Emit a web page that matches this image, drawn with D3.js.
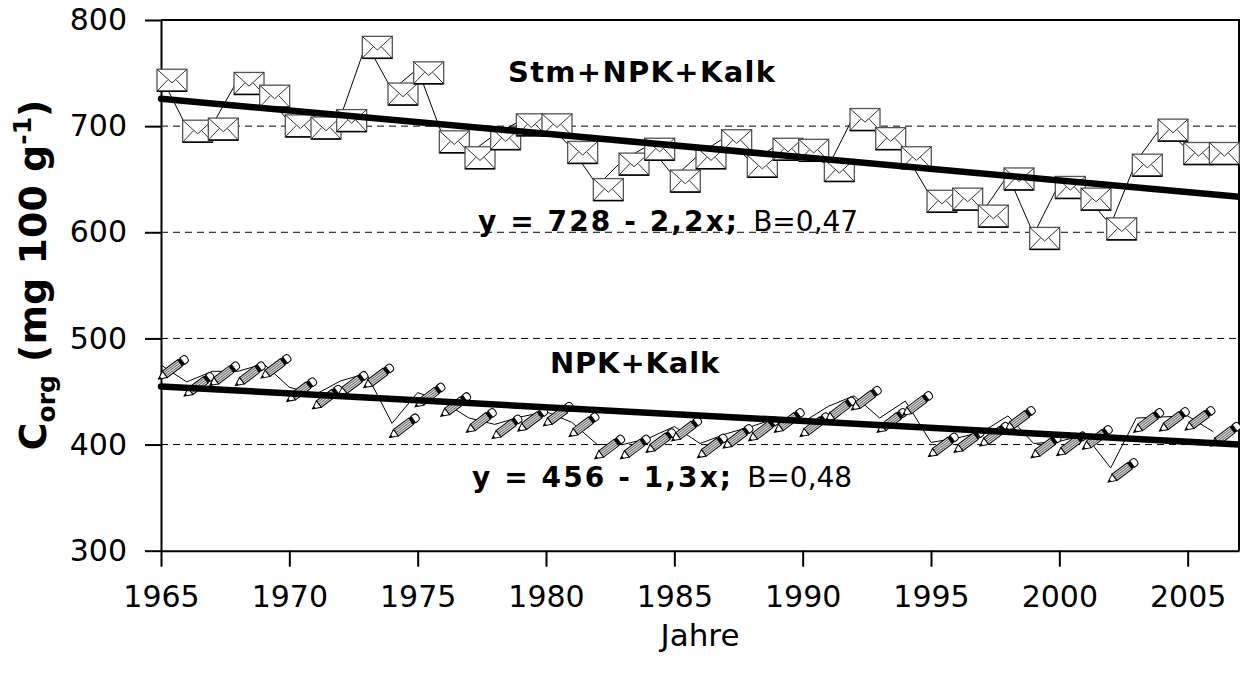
<!DOCTYPE html>
<html>
<head>
<meta charset="utf-8">
<script src="https://cdn.jsdelivr.net/npm/d3@7"></script>
<style>
  body { margin: 0; background: #fff; }
  text { font-family: "DejaVu Sans", Verdana, sans-serif; fill: #000; }
</style>
</head>
<body>
<svg id="chart" width="1240" height="674"></svg>
<script>
// Years of observation
const years = [1965, 1966, 1967, 1968, 1969, 1970, 1971, 1972, 1973, 1974,
               1975, 1976, 1977, 1978, 1979, 1980, 1981, 1982, 1983, 1984,
               1985, 1986, 1987, 1988, 1989, 1990, 1991, 1992, 1993, 1994,
               1995, 1996, 1997, 1998, 1999, 2000, 2001, 2002, 2003, 2004,
               2005, 2006];

// C_org, mg per 100 g soil — Stm+NPK+Kalk
const stmNpkKalk = [747, 699, 701, 744, 732, 704, 702, 709, 778, 734,
                    754, 689, 674, 692, 705, 705, 679, 644, 668, 682,
                    652, 674, 690, 666, 682, 681, 662, 710, 692, 674,
                    633, 635, 619, 654, 598, 646, 635, 607, 667, 700,
                    678, 678];

// C_org, mg per 100 g soil — NPK+Kalk
const npkKalk = [475, 459, 469, 469, 476, 454, 447, 460, 467, 420,
                 449, 440, 425, 419, 426, 431, 421, 400, 400, 406,
                 417, 401, 410, 417, 425, 421, 436, 446, 425, 441,
                 402, 406, 412, 427, 401, 403, 409, 378, 425, 426,
                 427, 412];

// Linear trends y = a + b*x, x counted from 1964
const trendNames = ["Stm+NPK+Kalk", "NPK+Kalk"];
const trendIntercepts = [728, 456];
const trendSlopes = [-2.2, -1.3];
const trendB = ["0,47", "0,48"];
const trendFormula = ["y = 728 - 2,2x;", "y = 456 - 1,3x;"];

const xTicks = [1965, 1970, 1975, 1980, 1985, 1990, 1995, 2000, 2005];
const yTicks = [300, 400, 500, 600, 700, 800];
const gridValues = [400, 500, 600, 700];

const svg = d3.select("#chart");
svg.append("rect").attr("width", 1240).attr("height", 674).attr("fill", "#fff");

const x = d3.scaleLinear().domain([1965, 2007]).range([161, 1239]);
const y = d3.scaleLinear().domain([300, 800]).range([550.7, 20]);

// dashed horizontal grid
svg.append("g").selectAll("line").data(gridValues).join("line")
  .attr("x1", x(1965)).attr("x2", x(2007))
  .attr("y1", d => y(d)).attr("y2", d => y(d))
  .attr("stroke", "#000").attr("stroke-width", 1)
  .attr("stroke-dasharray", "7,5");

// frame: top and right
svg.append("path")
  .attr("d", `M${x(1965)},${y(800)}H${x(2007)}V${y(300)}`)
  .attr("fill", "none").attr("stroke", "#000").attr("stroke-width", 2);

// axes
const xAxis = svg.append("g").attr("transform", `translate(0,${y(300)})`)
  .call(d3.axisBottom(x).tickValues(xTicks).tickFormat(d3.format("d"))
        .tickSize(16).tickSizeOuter(0).tickPadding(19));
const yAxis = svg.append("g").attr("transform", `translate(${x(1965)},0)`)
  .call(d3.axisLeft(y).tickValues(yTicks).tickSize(16).tickSizeOuter(0).tickPadding(18));
[xAxis, yAxis].forEach(g => {
  g.select(".domain").attr("stroke", "#000").attr("stroke-width", 2);
  g.selectAll(".tick line").attr("stroke", "#000").attr("stroke-width", 2);
  g.selectAll(".tick text").attr("font-family", "DejaVu Sans")
    .attr("font-size", 30).attr("fill", "#000");
});

// connecting lines of both series
const line = d3.line().x(d => x(d[0])).y(d => y(d[1]));
const seriesStm = years.map((yr, i) => [yr, stmNpkKalk[i]]);
const seriesNpk = years.map((yr, i) => [yr, npkKalk[i]]);

// symbols sit slightly right/below their data point
const symDx = 11, symDy = 4;

// envelope symbols
function drawEnvelope(g) {
  const w = 30, h = 22;
  g.append("rect").attr("x", -w / 2).attr("y", -h / 2).attr("width", w).attr("height", h)
    .attr("fill", "#fff").attr("stroke", "#555").attr("stroke-width", 1.3);
  g.append("line").attr("x1", -w / 2).attr("x2", w / 2).attr("y1", h / 2).attr("y2", h / 2)
    .attr("stroke", "#000").attr("stroke-width", 1.5);
  g.append("path")
    .attr("d", `M${-w / 2},${-h / 2}L0,${h * 0.12}L${w / 2},${-h / 2}` +
               `M${-w / 2},${h / 2}L${-w * 0.14},${-h * 0.02}` +
               `M${w / 2},${h / 2}L${w * 0.14},${-h * 0.02}`)
    .attr("fill", "none").attr("stroke", "#333").attr("stroke-width", 1);
}

// pencil symbols, tip at lower left
function drawPencil(g) {
  const p = g.append("g").attr("transform", "rotate(-37)");
  p.append("rect").attr("x", -9).attr("y", -4).attr("width", 19).attr("height", 8)
    .attr("fill", "#d4d4d4").attr("stroke", "#000").attr("stroke-width", 1);
  [-2, 0, 2].forEach(o => p.append("line").attr("x1", -9).attr("x2", 10)
    .attr("y1", o).attr("y2", o).attr("stroke", "#555").attr("stroke-width", 0.8));
  p.append("path").attr("d", "M-9,-4L-17,0L-9,4Z")
    .attr("fill", "#fff").attr("stroke", "#000").attr("stroke-width", 1);
  p.append("path").attr("d", "M-17,0L-14,-1.5L-14,1.5Z").attr("fill", "#000");
  p.append("rect").attr("x", 10).attr("y", -4).attr("width", 3).attr("height", 8)
    .attr("fill", "#000");
  p.append("path").attr("d", "M13,-4H16A3,4 0 0 1 16,4H13Z")
    .attr("fill", "#fff").attr("stroke", "#000").attr("stroke-width", 1);
}

svg.append("path").datum(seriesNpk).attr("d", line)
  .attr("fill", "none").attr("stroke", "#000").attr("stroke-width", 1);
svg.append("g").selectAll("g").data(seriesNpk).join("g")
  .attr("transform", d => `translate(${x(d[0]) + symDx},${y(d[1]) + symDy})`)
  .each(function () { drawPencil(d3.select(this)); });

svg.append("path").datum(seriesStm).attr("d", line)
  .attr("fill", "none").attr("stroke", "#000").attr("stroke-width", 1);
svg.append("g").selectAll("g").data(seriesStm).join("g")
  .attr("transform", d => `translate(${x(d[0]) + symDx},${y(d[1]) + symDy})`)
  .each(function () { drawEnvelope(d3.select(this)); });

// trend lines
trendIntercepts.forEach((a, i) => {
  const b = trendSlopes[i];
  const pts = [1965, 2007].map(yr => [yr, a + b * (yr - 1964)]);
  svg.append("path").datum(pts).attr("d", line)
    .attr("fill", "none").attr("stroke", "#000").attr("stroke-width", 6.5)
    .attr("stroke-linecap", "round");
});

// series names
svg.append("text").attr("x", 508).attr("y", 82)
  .attr("font-size", 29).attr("letter-spacing", 1.3).attr("font-weight", "bold").text(trendNames[0]);
svg.append("text").attr("x", 550).attr("y", 373)
  .attr("font-size", 29).attr("letter-spacing", 0.8).attr("font-weight", "bold").text(trendNames[1]);

// regression equations
const eqPos = [[478, 231], [472, 487]];
eqPos.forEach((p, i) => {
  const t = svg.append("text").attr("x", p[0]).attr("y", p[1]).attr("font-size", 28);
  t.append("tspan").attr("font-weight", "bold").attr("letter-spacing", 2.1).text(trendFormula[i]);
  t.append("tspan").attr("dx", 14).text("B=" + trendB[i]);
});

// axis titles
svg.append("text").attr("x", x(1986)).attr("y", 646)
  .attr("text-anchor", "middle").attr("font-size", 31).text("Jahre");

const yt = svg.append("text")
  .attr("transform", `translate(46,275) rotate(-90)`)
  .attr("text-anchor", "middle").attr("font-size", 38).attr("font-weight", "bold");
yt.append("tspan").text("C");
yt.append("tspan").attr("font-size", 25).attr("dy", 9).text("org");
yt.append("tspan").attr("dy", -9).text(" (mg 100 g");
yt.append("tspan").attr("font-size", 25).attr("dy", -15).text("-1");
yt.append("tspan").attr("dy", 15).text(")");
</script>
</body>
</html>
